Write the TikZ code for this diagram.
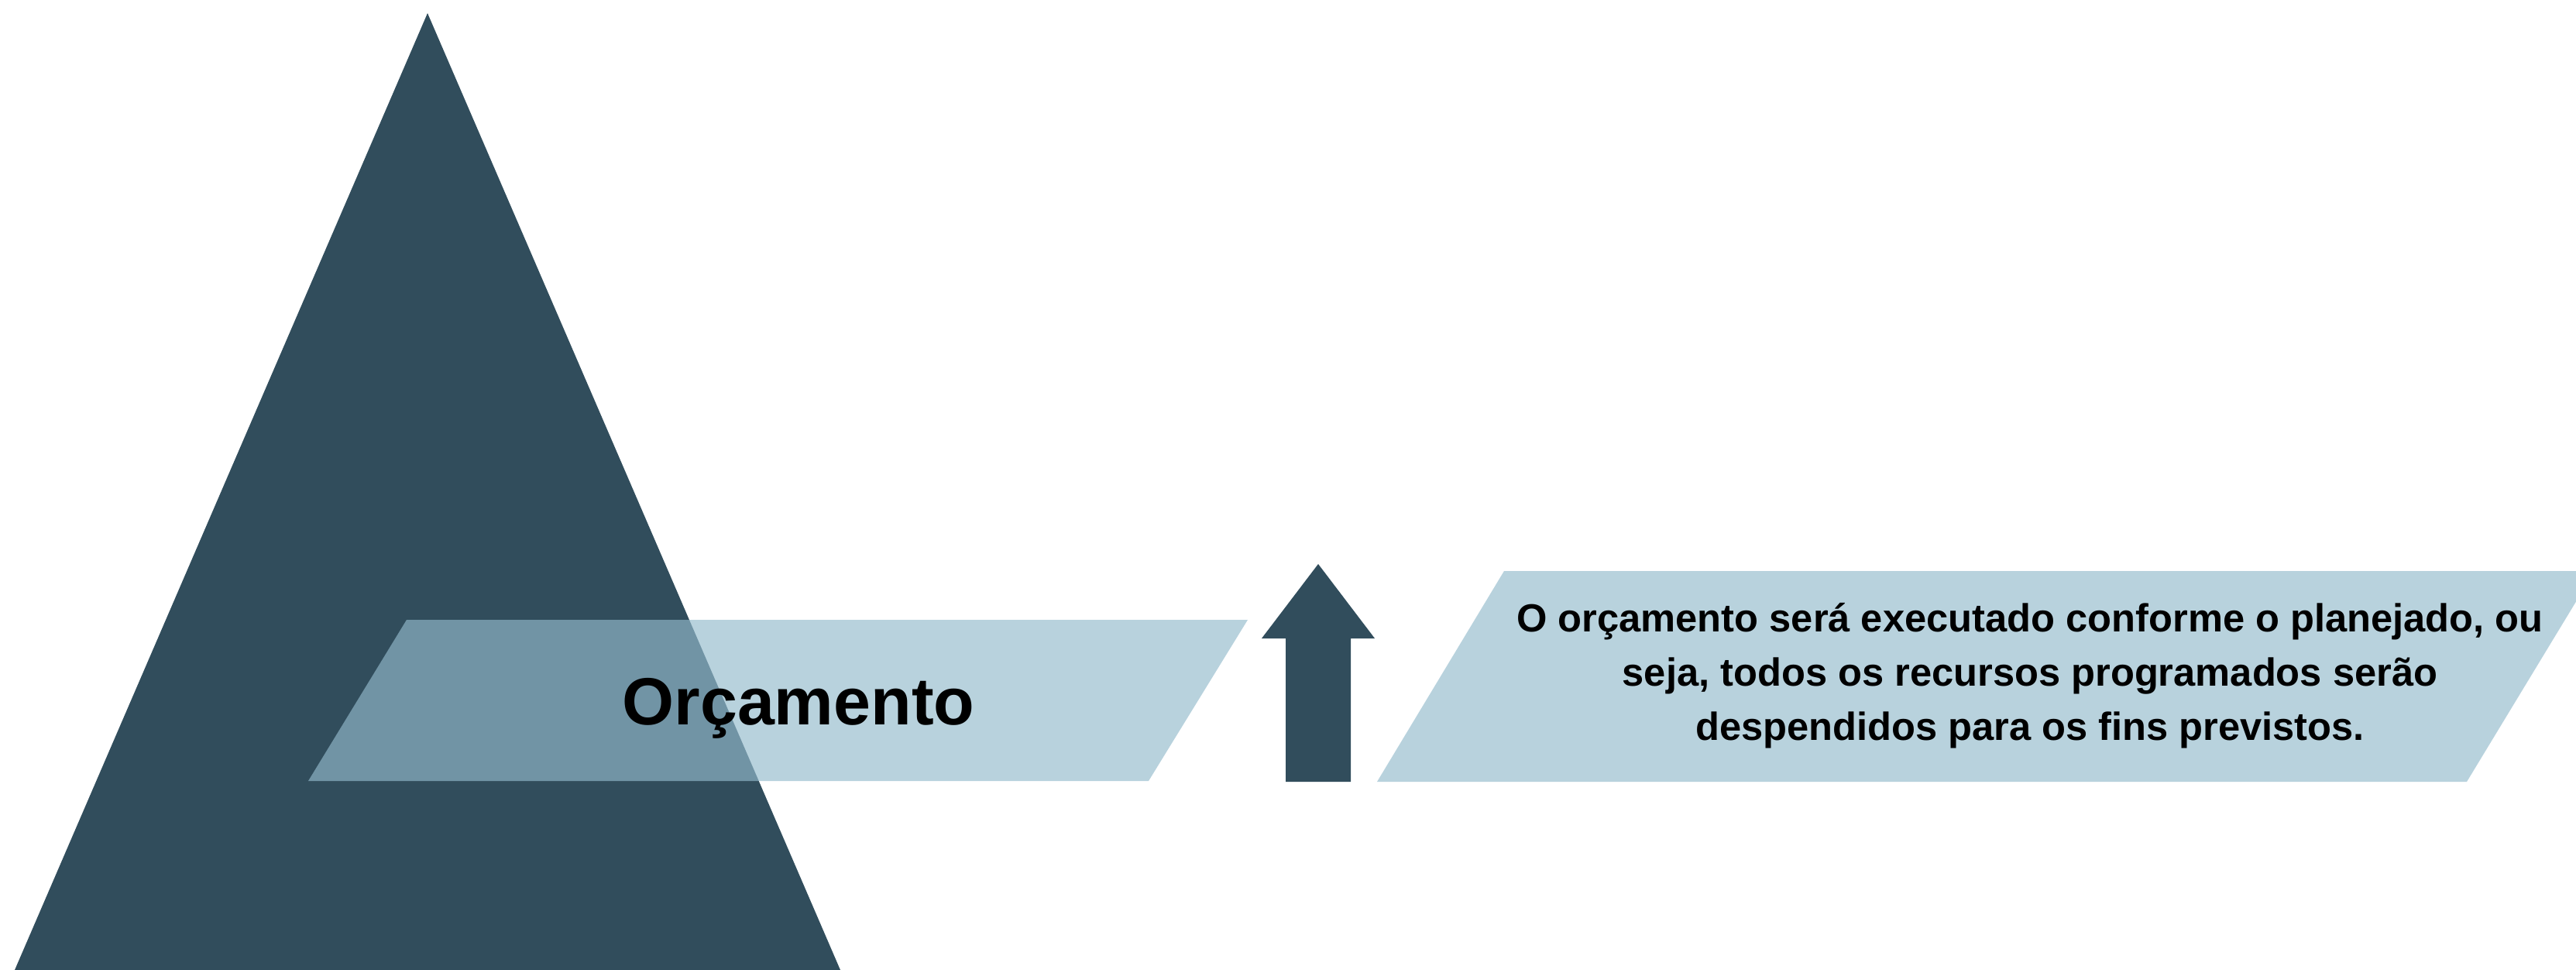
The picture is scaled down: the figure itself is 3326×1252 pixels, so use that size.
\documentclass[tikz,border=0pt]{standalone}
\usepackage{fontspec}
\setmainfont{Liberation Sans}
\usetikzlibrary{positioning}
\definecolor{budgetdark}{RGB}{49, 77, 92}
\definecolor{budgetlight}{RGB}{147, 186, 203}

\begin{document}
\begin{tikzpicture}[
    x=0.01cm, y=-0.01cm,
    band/.style={fill=budgetlight, fill opacity=0.66},
    solid shape/.style={fill=budgetdark},
    title/.style={font=\fontsize{24.5}{30}\selectfont\bfseries, inner sep=0pt},
    note/.style={font=\fontsize{14.4}{19.9}\selectfont\bfseries, align=center, inner sep=0pt}
]
    \useasboundingbox (0,0) rectangle (3326,1252);
    \clip (0,0) rectangle (3326,1252);

    % Pyramid
    \fill[solid shape] (552,17) -- (1085,1252) -- (19,1252) -- cycle;

    % Left band
    \fill[band] (525,800) -- (1611,800) -- (1483,1008) -- (398,1008) -- cycle;
    \node[title, anchor=base] (orcamento) at (1031,935) {Orçamento};

    % Arrow
    \fill[solid shape] (1702,728) -- (1775,824) -- (1744,824) -- (1744,1009)
        -- (1660,1009) -- (1660,824) -- (1629,824) -- cycle;

    % Right band
    \fill[band] (1942,737) -- (3350,737) -- (3185,1009) -- (1778,1009) -- cycle;
    \node[note] (execucao) at (2621,872)
        {O orçamento será executado conforme o planejado, ou\\
         seja, todos os recursos programados serão\\
         despendidos para os fins previstos.};
\end{tikzpicture}
\end{document}
